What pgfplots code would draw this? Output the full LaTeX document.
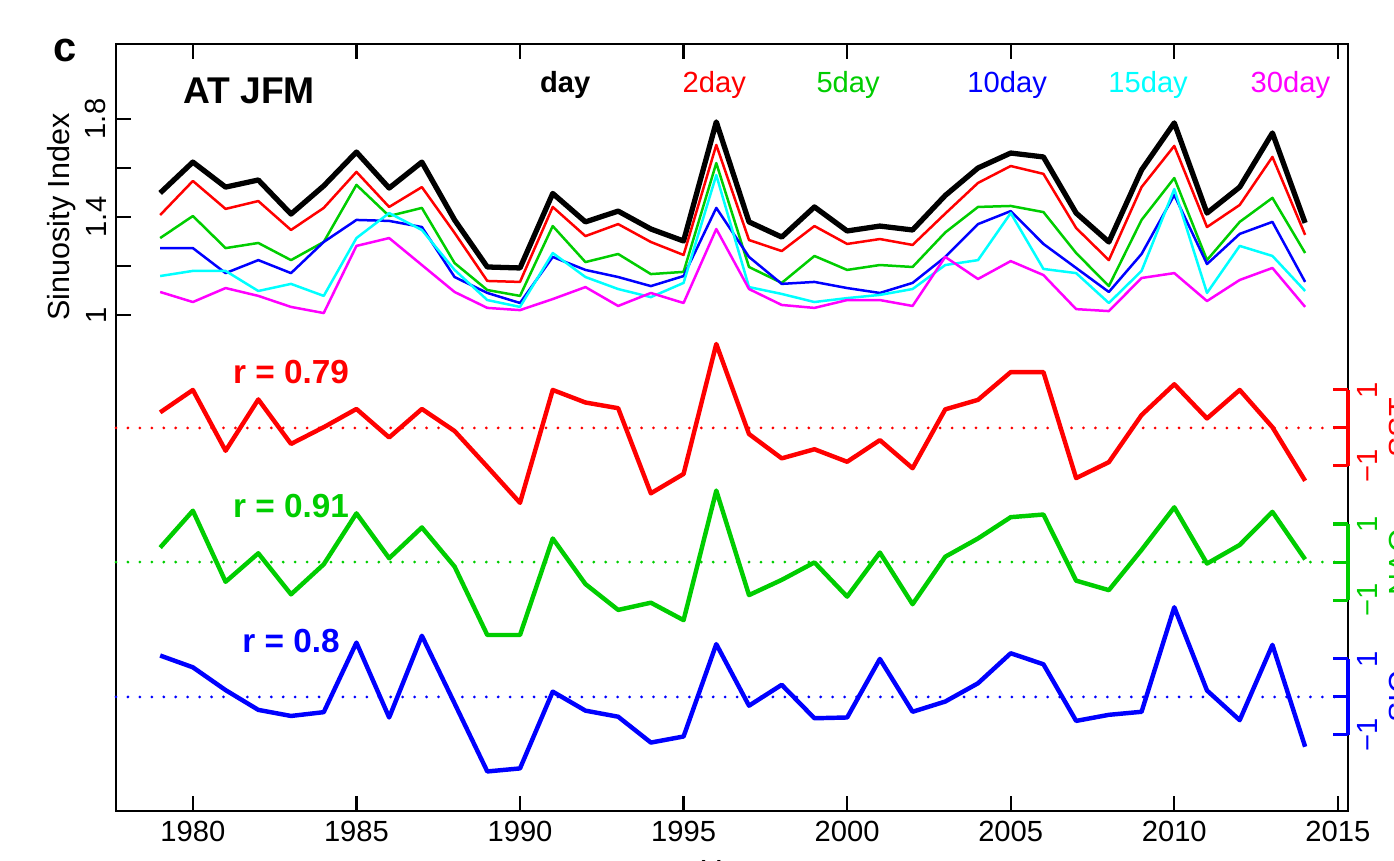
\documentclass[border=0pt]{standalone}
\usepackage{fontspec}
\setmainfont{Liberation Sans}
\usepackage{pgfplots}
\pgfplotsset{compat=1.18}
\usepackage{pgfplotstable}

\definecolor{rred}{RGB}{255,0,0}
\definecolor{rgreen}{RGB}{0,205,0}
\definecolor{rblue}{RGB}{0,0,255}
\definecolor{rcyan}{RGB}{0,255,255}
\definecolor{rmag}{RGB}{255,0,255}

% sinuosity index (top) and normalised indices (bottom, right axes)
\pgfplotstableread{
year day   d2    d5    d10   d15   d30   ra    ga    ba
1979 1.498 1.408 1.314 1.273 1.159 1.094  0.41  0.38  1.09
1980 1.624 1.547 1.404 1.273 1.180 1.053  1.00  1.35  0.78
1981 1.522 1.433 1.273 1.171 1.180 1.110 -0.60 -0.52  0.18
1982 1.551 1.465 1.294 1.224 1.098 1.078  0.75  0.23 -0.34
1983 1.412 1.347 1.224 1.171 1.127 1.033 -0.42 -0.85 -0.50
1984 1.527 1.437 1.298 1.298 1.078 1.008  0.02 -0.06 -0.40
1985 1.665 1.584 1.531 1.388 1.314 1.282  0.50  1.28  1.43
1986 1.518 1.441 1.404 1.384 1.416 1.314 -0.25  0.10 -0.54
1987 1.624 1.522 1.437 1.359 1.347 1.204  0.50  0.91  1.61
1988 1.388 1.335 1.212 1.155 1.184 1.094 -0.08 -0.12 -0.17
1989 1.196 1.139 1.102 1.090 1.061 1.029 -1.02 -1.92 -1.96
1990 1.192 1.135 1.078 1.049 1.033 1.020 -1.97 -1.92 -1.88
1991 1.496 1.441 1.363 1.237 1.253 1.065  1.00  0.62  0.14
1992 1.380 1.322 1.216 1.184 1.155 1.114  0.67 -0.58 -0.36
1993 1.424 1.371 1.249 1.155 1.106 1.037  0.52 -1.26 -0.52
1994 1.351 1.298 1.167 1.118 1.073 1.090 -1.72 -1.07 -1.20
1995 1.302 1.245 1.176 1.159 1.131 1.049 -1.21 -1.53 -1.04
1996 1.788 1.694 1.620 1.437 1.571 1.351  2.21  1.88  1.39
1997 1.380 1.306 1.196 1.237 1.114 1.106 -0.16 -0.87 -0.23
1998 1.318 1.261 1.131 1.127 1.086 1.041 -0.80 -0.47  0.32
1999 1.441 1.363 1.241 1.135 1.053 1.029 -0.56 -0.01 -0.56
2000 1.343 1.290 1.184 1.110 1.069 1.061 -0.89 -0.91 -0.54
2001 1.363 1.310 1.204 1.090 1.082 1.061 -0.32  0.25  1.00
2002 1.347 1.286 1.196 1.131 1.106 1.037 -1.06 -1.11 -0.39
2003 1.488 1.414 1.337 1.237 1.204 1.237  0.49  0.14 -0.12
2004 1.600 1.539 1.441 1.371 1.224 1.147  0.74  0.62  0.36
2005 1.661 1.608 1.445 1.424 1.416 1.220  1.47  1.18  1.15
2006 1.645 1.576 1.420 1.290 1.188 1.163  1.47  1.25  0.86
2007 1.416 1.355 1.253 1.192 1.171 1.024 -1.32 -0.49 -0.63
2008 1.298 1.224 1.118 1.094 1.049 1.016 -0.90 -0.74 -0.47
2009 1.592 1.522 1.388 1.249 1.180 1.151  0.34  0.32 -0.39
2010 1.784 1.690 1.559 1.490 1.514 1.171  1.15  1.44  2.36
2011 1.416 1.359 1.224 1.208 1.090 1.057  0.25 -0.04  0.17
2012 1.522 1.449 1.380 1.331 1.282 1.143  1.00  0.45 -0.61
2013 1.743 1.645 1.478 1.380 1.241 1.192  0.02  1.32  1.37
2014 1.376 1.327 1.253 1.135 1.098 1.033 -1.39  0.07 -1.31
}\sinu

\pgfplotsset{
  sinubox/.style={scale only axis, width=443.52pt, height=276.12pt,
    at={(41.76pt,18pt)}, anchor=south west, xmin=1977.65, xmax=2015.31},
  anom/.style={sinubox, hide x axis, axis y line*=right,
    y axis line style={draw=none}, clip=false,
    tick align=inside, major tick length=5.4pt,
    ytick={-1,0,1}, yticklabels={−1,,1},
    yticklabel style={rotate=90, anchor=north, color=#1,
      font=\fontsize{10.5}{12}\selectfont},
    major tick style={#1, line width=1.1pt}},
  zero/.style={#1, line width=1.1pt, line cap=round, dash pattern=on 0pt off 4.3pt},
  thin/.style={#1, line width=0.9pt, line join=round},
  anomline/.style={#1, line width=1.6pt, line join=round},
}

\begin{document}
\begin{tikzpicture}
\begin{axis}[sinubox,
  ymin=-1.024, ymax=2.106,
  axis line style={line width=0.8pt},
  tick align=inside, major tick length=5.4pt,
  every tick/.style={black, line width=0.8pt},
  xtick={1980,1985,...,2015},
  xticklabels={1980,1985,1990,1995,2000,2005,2010,2015},
  xtick pos=both, ytick pos=left,
  ytick={1,1.2,1.4,1.6,1.8}, yticklabels={1,,1.4,,1.8},
  yticklabel style={rotate=90, anchor=south},
  ticklabel style={font=\fontsize{10.5}{12}\selectfont},
  ylabel={Sinuosity Index},
  ylabel style={at={(axis description cs:-0.0438,0.7744)}, anchor=center,
    font=\fontsize{11}{13}\selectfont},
  xlabel={Year},
  xlabel style={font=\fontsize{11}{13}\selectfont},
  clip=false,
]
\addplot[black, line width=1.9pt, line join=round] table[x=year, y=day] {\sinu};
\addplot[thin=rred] table[x=year, y=d2] {\sinu};
\addplot[thin=rgreen] table[x=year, y=d5] {\sinu};
\addplot[thin=rblue] table[x=year, y=d10] {\sinu};
\addplot[thin=rcyan] table[x=year, y=d15] {\sinu};
\addplot[thin=rmag] table[x=year, y=d30] {\sinu};

\node[anchor=base, font=\bfseries\fontsize{13.4}{15}\selectfont] at (axis cs:1981.72,1.865) {AT JFM};
\node[anchor=base, font=\bfseries\fontsize{10.5}{12}\selectfont] at (axis cs:1991.38,1.906) {day};
\node[anchor=base, rred, font=\fontsize{10.5}{12}\selectfont] at (axis cs:1995.94,1.906) {2day};
\node[anchor=base, rgreen, font=\fontsize{10.5}{12}\selectfont] at (axis cs:2000.03,1.906) {5day};
\node[anchor=base, rblue, font=\fontsize{10.5}{12}\selectfont] at (axis cs:2004.89,1.906) {10day};
\node[anchor=base, rcyan, font=\fontsize{10.5}{12}\selectfont] at (axis cs:2009.20,1.906) {15day};
\node[anchor=base, rmag, font=\fontsize{10.5}{12}\selectfont] at (axis cs:2013.55,1.906) {30day};
\end{axis}

\begin{axis}[anom=rred, ymin=-10.08, ymax=10.105]
\addplot[zero=rred] coordinates {(1977.65,0) (2015.31,0)};
\addplot[anomline=rred] table[x=year, y=ra] {\sinu};
\draw[rred, line width=1.1pt] (axis cs:2015.31,-1) -- (axis cs:2015.31,1);
\node[anchor=base, rred, font=\bfseries\fontsize{12}{14}\selectfont] at (axis cs:1983,1.18) {r = 0.79};
\node[rotate=90, anchor=north, inner sep=0pt, rred, font=\fontsize{11}{13}\selectfont] at ([xshift=14.5pt]axis cs:2015.31,0) {SST};
\end{axis}

\begin{axis}[anom=rgreen, ymin=-6.55, ymax=13.63]
\addplot[zero=rgreen] coordinates {(1977.65,0) (2015.31,0)};
\addplot[anomline=rgreen] table[x=year, y=ga] {\sinu};
\draw[rgreen, line width=1.1pt] (axis cs:2015.31,-1) -- (axis cs:2015.31,1);
\node[anchor=base, rgreen, font=\bfseries\fontsize{12}{14}\selectfont] at (axis cs:1983,1.18) {r = 0.91};
\node[rotate=90, anchor=north, inner sep=0pt, rgreen, font=\fontsize{11}{13}\selectfont] at ([xshift=14.5pt]axis cs:2015.31,0) {NAO};
\end{axis}

\begin{axis}[anom=rblue, ymin=-3.0, ymax=17.18]
\addplot[zero=rblue] coordinates {(1977.65,0) (2015.31,0)};
\addplot[anomline=rblue] table[x=year, y=ba] {\sinu};
\draw[rblue, line width=1.1pt] (axis cs:2015.31,-1) -- (axis cs:2015.31,1);
\node[anchor=base, rblue, font=\bfseries\fontsize{12}{14}\selectfont] at (axis cs:1983,1.18) {r = 0.8};
\node[rotate=90, anchor=north, inner sep=0pt, rblue, font=\fontsize{11}{13}\selectfont] at ([xshift=14.5pt]axis cs:2015.31,0) {SIC};
\end{axis}

\node[anchor=base, font=\bfseries\fontsize{15}{17}\selectfont] at (23.4pt,287.64pt) {c};

\pgfresetboundingbox
\useasboundingbox (0,0) rectangle (501.84pt,309.96pt);
\end{tikzpicture}
\end{document}
